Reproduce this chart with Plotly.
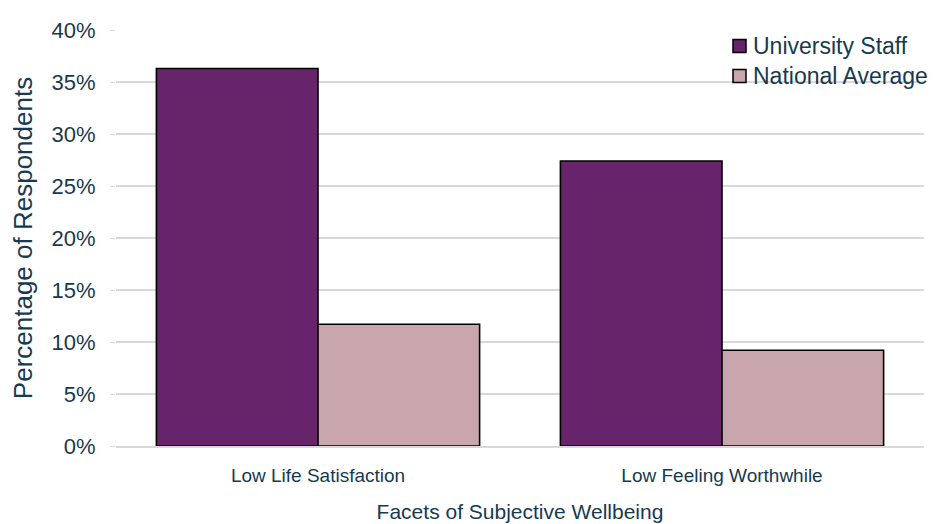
import plotly.graph_objects as go

categories = ["Low Life Satisfaction", "Low Feeling Worthwhile"]
series_names = ["University Staff", "National Average"]
university_staff = [36.3, 27.4]
national_average = [11.7, 9.2]
y_ticks = [0, 5, 10, 15, 20, 25, 30, 35, 40]
y_tick_labels = [f"{v}%" for v in y_ticks]

series_colors = ["#68246a", "#c9a6ae"]
text_color = "#173a50"
font_family = "Liberation Sans, Arial, sans-serif"

fig = go.Figure()
for name, values, color in zip(series_names, [university_staff, national_average], series_colors):
    fig.add_trace(go.Bar(
        name=name, x=categories, y=values,
        marker=dict(color=color, line=dict(color="#000000", width=1.6)),
    ))

# Legend drawn as small outlined swatches with labels in the top-right corner
legend_rows_y = [46, 76]
H = 524
plot_h = H - 78 - 30
for name, color, yc in zip(series_names, series_colors, legend_rows_y):
    fig.add_shape(
        type="rect", xref="paper", yref="paper",
        x0=(733 - 116) / 808, x1=(746 - 116) / 808,
        y0=(H - 78 - (yc + 6.5)) / plot_h, y1=(H - 78 - (yc - 6.5)) / plot_h,
        fillcolor=color, line=dict(color="#000000", width=1.5),
    )
    fig.add_annotation(
        xref="paper", yref="paper",
        x=(751 - 116) / 808, y=(H - 78 - yc) / plot_h,
        xanchor="left", yanchor="middle", showarrow=False,
        text=name, font=dict(size=23, color=text_color),
    )

fig.update_layout(
    width=935, height=524,
    margin=dict(l=116, r=11, t=30, b=78),
    paper_bgcolor="white", plot_bgcolor="white",
    barmode="group", bargap=0.2, bargroupgap=0,
    font=dict(family=font_family, color=text_color, size=18),
    showlegend=False,
    xaxis=dict(
        automargin=False,
        showline=True, linecolor="#d9d9d9", linewidth=1.5,
        ticks="", ticklabelstandoff=11, tickfont=dict(size=19),
        title=dict(text="Facets of Subjective Wellbeing", standoff=20,
                   font=dict(size=21)),
    ),
    yaxis=dict(
        automargin=False,
        range=[0, 40], tickvals=y_ticks, ticktext=y_tick_labels,
        showgrid=True, gridcolor="#d9d9d9", gridwidth=1.5,
        zeroline=False, ticks="outside", ticklen=5, tickcolor="#d9d9d9",
        ticklabelstandoff=10,
        tickfont=dict(size=22),
        title=dict(text="Percentage of Respondents", standoff=11, font=dict(size=26)),
    ),
)

fig.write_html("out.html")
